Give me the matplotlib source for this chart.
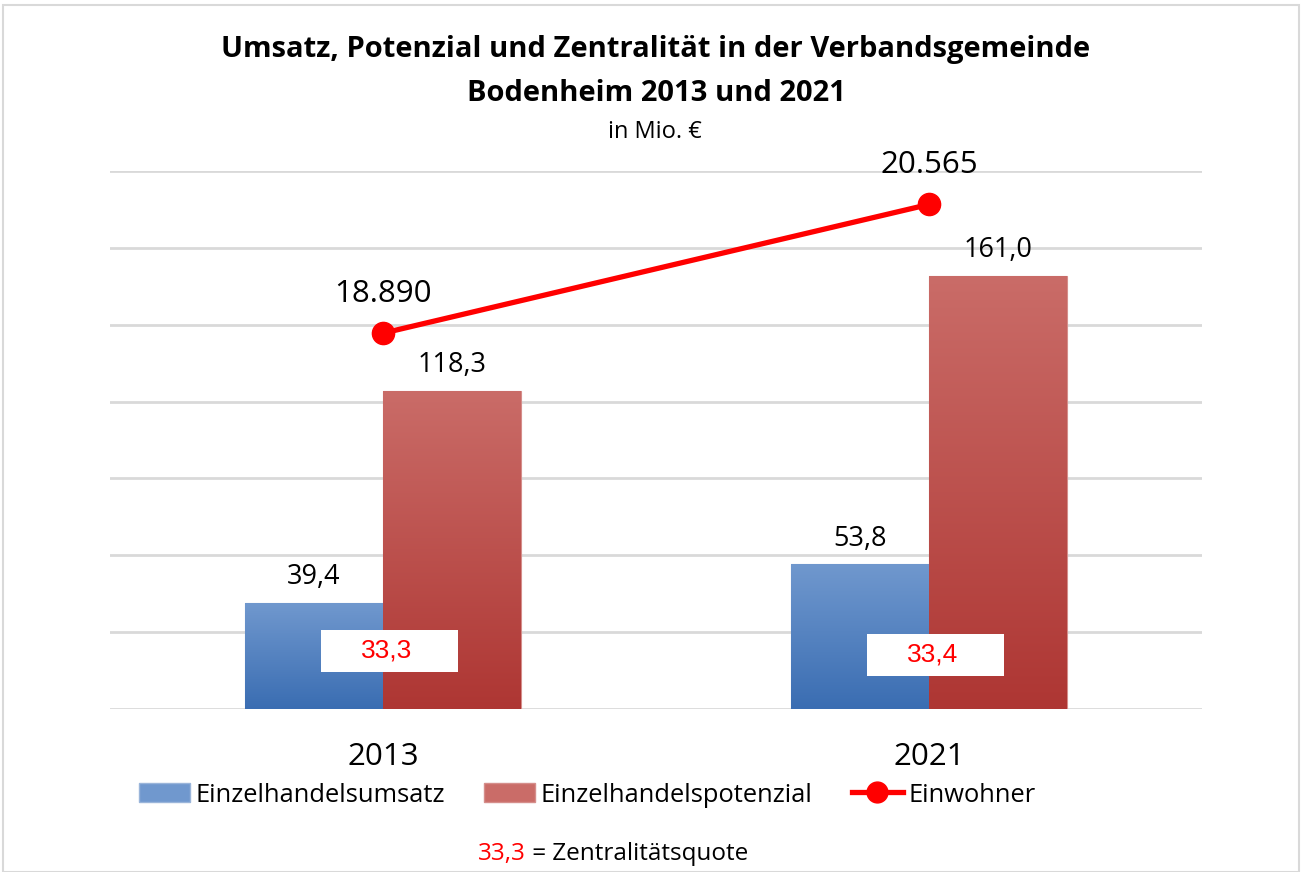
import numpy as np
import matplotlib
matplotlib.use("Agg")
import matplotlib.pyplot as plt
from matplotlib.patches import Rectangle, Patch
from matplotlib.lines import Line2D

# ---- data ----
years = ["2013", "2021"]
umsatz = [39.4, 53.8]
potenzial = [118.3, 161.0]
einwohner = [18890, 20565]
zentralitaet = [33.3, 33.4]

title_lines = ["Umsatz, Potenzial und Zentralität in der Verbandsgemeinde",
               "Bodenheim 2013 und 2021"]
subtitle = "in Mio. €"
legend_labels = ["Einzelhandelsumsatz", "Einzelhandelspotenzial", "Einwohner"]


def de(v, d=1):
    return f"{v:.{d}f}".replace(".", ",")


def de_int(v):
    return f"{v:,.0f}".replace(",", ".")


FONT = "Open Sans"
plt.rcParams["font.family"] = [FONT, "DejaVu Sans"]
RED_FONT = ["Liberation Sans", "DejaVu Sans"]

W, H = 1301, 872
fig = plt.figure(figsize=(W / 100, H / 100), dpi=100)
fig.patch.set_facecolor("white")

# outer border
fig.add_artist(Rectangle((3 / W, 0), 1296 / W, (H - 5) / H, transform=fig.transFigure,
                         fill=False, edgecolor="#d9d9d9", linewidth=1.5))

left, right, top, bottom = 110, 1202, 171, 709
pos = [left / W, (H - bottom) / H, (right - left) / W, (bottom - top) / H]
ax2 = fig.add_axes(pos)          # secondary scale (grid + line range)
ax = fig.add_axes(pos)           # bars
ax3 = fig.add_axes(pos)          # line on top

x = np.arange(len(years))
bw = 138 / 546
blue_top, blue_bot = np.array([0x70, 0x98, 0xce]) / 255, np.array([0x3a, 0x6d, 0xb2]) / 255
red_top, red_bot = np.array([0xca, 0x6c, 0x68]) / 255, np.array([0xae, 0x36, 0x33]) / 255

b1 = ax.bar(x - bw / 2, umsatz, bw, color=blue_top, edgecolor="#9ab5da", linewidth=0.8, zorder=2)
b2 = ax.bar(x + bw / 2, potenzial, bw, color=red_top, edgecolor="#d58e8b", linewidth=0.8, zorder=2)


def grad_fill(bars, ctop, cbot):
    for r in bars:
        x0, y0 = r.get_xy()
        w, h = r.get_width(), r.get_height()
        t = np.linspace(0, 1, 256)[:, None]
        img = (ctop[None, :] * (1 - t) + cbot[None, :] * t)[:, None, :]
        im = ax.imshow(img, extent=[x0, x0 + w, y0, y0 + h], origin="upper",
                       aspect="auto", zorder=2.1, interpolation="bilinear")
        im.set_clip_path(r)


grad_fill(b1, blue_top, blue_bot)
grad_fill(b2, red_top, red_bot)
ax.set_xlim(-0.5, len(years) - 0.5)
ax.set_ylim(0, 200)

for bars, vals in ((b1, umsatz), (b2, potenzial)):
    for r, v in zip(bars, vals):
        ax.annotate(de(v), (r.get_x() + r.get_width() / 2, v), xytext=(0, 13.5),
                    textcoords="offset points", ha="center", va="baseline",
                    fontsize=19.5, color="black", zorder=5)

# Zentralitaet boxes
box_centers = [21.6, 20.1]
for i, z in enumerate(zentralitaet):
    cy = box_centers[i]
    ax.add_patch(Rectangle((i - 65 / 546 + 0.005, cy - 7.8), 137 / 546, 15.6,
                           facecolor="white", edgecolor="none", zorder=4))
    ax.text(i + 0.007, cy, de(z), ha="center", va="center", color="#ff0000",
            fontsize=19, family=RED_FONT, zorder=5)

# secondary axis grid
ax2.set_xlim(-0.5, len(years) - 0.5)
ax2.set_ylim(14000, 21000)
ax2.set_yticks(np.arange(14000, 21001, 1000))
ax2.set_xticks([])
ax2.grid(axis="y", color="#d9d9d9", linewidth=2)
ax2.tick_params(axis="y", length=0, labelleft=False)

# line on top
ax3.set_xlim(-0.5, len(years) - 0.5)
ax3.set_ylim(14000, 21000)
ax3.plot(x, einwohner, color="#ff0000", linewidth=3.8, marker="o", markersize=16,
         solid_capstyle="butt", zorder=6)
for xi, v in zip(x, einwohner):
    ax3.annotate(de_int(v), (xi, v), xytext=(0, 22.3), textcoords="offset points",
                 ha="center", va="baseline", fontsize=22.5, color="black")
ax3.axis("off")

for a in (ax, ax2):
    for s in a.spines.values():
        s.set_visible(False)
    a.patch.set_visible(False)
ax.tick_params(axis="y", length=0, labelleft=False)
ax.set_xticks(x)
ax.set_xticklabels(years)
ax.tick_params(axis="x", length=0, pad=40.3, labelsize=22.5)
for lbl in ax.get_xticklabels():
    lbl.set_verticalalignment("baseline")

# titles
fig.text(656 / W, 1 - 57 / H, title_lines[0], ha="center", va="baseline", fontsize=21,
         fontweight="bold")
fig.text(656 / W, 1 - 101 / H, title_lines[1], ha="center", va="baseline", fontsize=21,
         fontweight="bold")
fig.text(655 / W, 1 - 138 / H, subtitle, ha="center", va="baseline", fontsize=17)

# legend
handles = [Patch(facecolor=blue_top, edgecolor="#9ab5da"),
           Patch(facecolor=red_top, edgecolor="#d58e8b"),
           Line2D([0], [0], color="#ff0000", linewidth=3.8, marker="o", markersize=15)]
fig.legend(handles, legend_labels, loc="center", bbox_to_anchor=(587 / W, 1 - 795 / H), ncol=3,
           frameon=False, fontsize=18.4, handlelength=2.0, handleheight=0.72,
           handletextpad=0.2, columnspacing=1.55, borderpad=0, borderaxespad=0)

# footnote
t1 = fig.text(478 / W, 1 - 860 / H, "33,3", ha="left", va="baseline", fontsize=17.5,
              color="#ff0000")
fig.canvas.draw()
bb = t1.get_window_extent()
fig.text(bb.x1 / W, 1 - 860 / H, " = Zentralitätsquote", ha="left", va="baseline",
         fontsize=17.5, color="black")

fig.savefig("out.png", dpi=100, facecolor="white")
